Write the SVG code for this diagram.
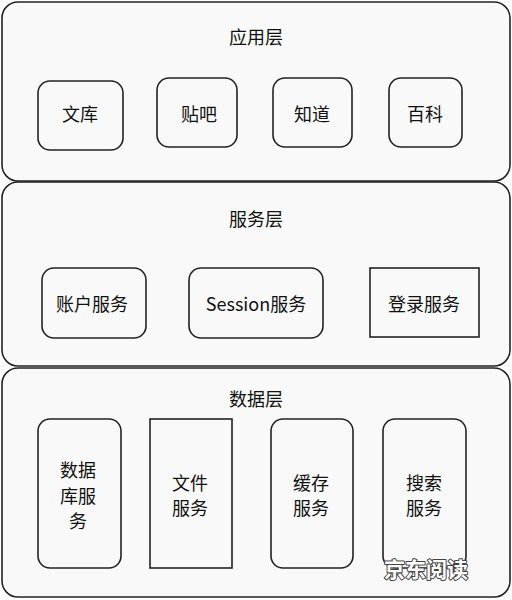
<svg xmlns="http://www.w3.org/2000/svg" width="512" height="600" viewBox="0 0 512 600">
<style>
.layer{fill:#f8f9f8;stroke:#222;stroke-width:1.6}
.node{fill:#f8f9f8;stroke:#222;stroke-width:1.6}
text{font-family:"Noto Sans CJK SC","Liberation Sans",sans-serif;font-size:18px;fill:#111;text-anchor:middle;dominant-baseline:central}
.wm{font-size:21px;font-weight:bold;fill:#fff;stroke:#444;stroke-width:2;paint-order:stroke;stroke-linejoin:round}
</style>
<rect width="512" height="600" fill="#ffffff"/>
<g id="layer-app">
<rect class="layer" x="2" y="2" width="508" height="179" rx="16"/>
<text x="256" y="36">应用层</text>
</g>
<g id="layer-service">
<rect class="layer" x="2" y="182" width="508" height="184" rx="16"/>
<text x="256" y="218">服务层</text>
</g>
<g id="layer-data">
<rect class="layer" x="2" y="368" width="508" height="229" rx="16"/>
<text x="256" y="398">数据层</text>
</g>
<g id="wenku"><rect class="node" x="38" y="81" width="85" height="69" rx="12"/><text x="80" y="113">文库</text></g>
<g id="tieba"><rect class="node" x="157" y="78" width="80" height="69" rx="12"/><text x="199" y="113">贴吧</text></g>
<g id="zhidao"><rect class="node" x="273" y="78" width="79" height="69" rx="12"/><text x="312" y="113">知道</text></g>
<g id="baike"><rect class="node" x="389" y="78" width="73" height="69" rx="12"/><text x="425" y="113">百科</text></g>
<g id="account"><rect class="node" x="42" y="268" width="104" height="70" rx="12"/><text x="92" y="303">账户服务</text></g>
<g id="session"><rect class="node" x="189" y="268" width="134" height="70" rx="12"/><text x="256" y="303">Session服务</text></g>
<g id="login"><rect class="node" x="370" y="268" width="109" height="69"/><text x="424" y="303">登录服务</text></g>
<g id="db"><rect class="node" x="38" y="419" width="83" height="149" rx="12"/><text x="78" y="469">数据</text><text x="78" y="495">库服</text><text x="78" y="520">务</text></g>
<g id="file"><rect class="node" x="150" y="419" width="82" height="149"/><text x="190" y="482">文件</text><text x="190" y="507">服务</text></g>
<g id="cache"><rect class="node" x="271" y="419" width="82" height="149" rx="12"/><text x="311" y="482">缓存</text><text x="311" y="507">服务</text></g>
<g id="search"><rect class="node" x="383" y="419" width="83" height="149" rx="12"/><text x="424" y="482">搜索</text><text x="424" y="507">服务</text></g>
<g id="connectors"></g>
<text class="wm" x="426" y="568">京东阅读</text>
</svg>
